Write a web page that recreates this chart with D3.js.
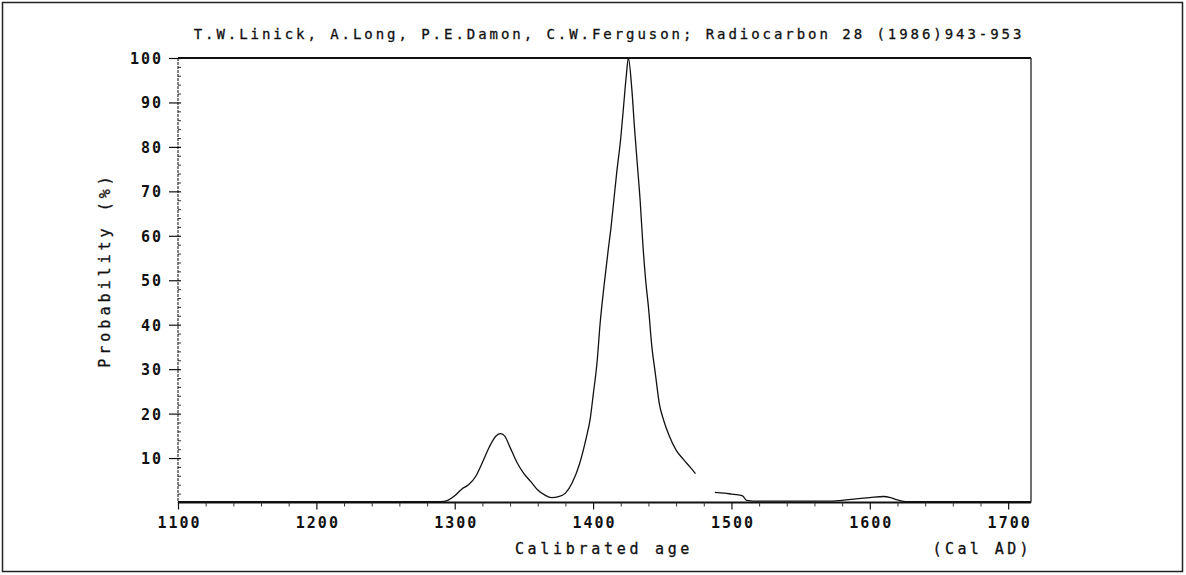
<!DOCTYPE html>
<html>
<head>
<meta charset="utf-8">
<script src="https://cdn.jsdelivr.net/npm/d3@7/dist/d3.min.js"></script>
<style>
  html, body { margin: 0; padding: 0; background: #fff; }
  svg { display: block; }
  text { font-family: "DejaVu Sans Mono", "Liberation Mono", monospace; fill: #111; }
</style>
</head>
<body>
<svg id="chart" width="1186" height="575"></svg>
<script>
// ---- data ----
const titleText = "T.W.Linick, A.Long, P.E.Damon, C.W.Ferguson; Radiocarbon 28 (1986)943-953";
const xLabel = "Calibrated age";
const xUnit = "(Cal AD)";
const yLabel = "Probability (%)";
const xTicks = [1100, 1200, 1300, 1400, 1500, 1600, 1700];
const yTicks = [10, 20, 30, 40, 50, 60, 70, 80, 90, 100];
const years = [1100,1150,1200,1250,1290,1295,1300,1305,1310,1315,1320,1325,1330,1333,1336,1340,1345,1350,1355,1360,1365,1370,1375,1380,1385,1390,1395,1398,1400,1403,1405,1408,1411,1413,1415,1417,1420,1422,1424,1425.5,1428,1430,1432,1434,1436,1438,1440,1442.5,1445,1448,1451,1455,1460,1465,1470,1474,1480,1488,1495,1500,1505,1508,1511,1520,1540,1560,1570,1580,1590,1600,1610,1615,1620,1627,1650,1680,1716];
const probability = [0.2,0.2,0.2,0.2,0.2,0.5,1.5,3.0,4.0,5.8,9.0,12.5,15.0,15.5,15.0,12.4,9.0,6.5,4.7,2.8,1.7,1.1,1.3,2.1,4.5,8.5,14.5,19,24,32,40,49,57,62,68,74,82,89,96,100,93,84,76,68,58,50,44,35,29,22,18.5,15,11.8,9.8,8,6.5,null,2.3,2.1,1.9,1.7,1.5,0.5,0.3,0.3,0.3,0.3,0.5,0.8,1.1,1.35,1.1,0.6,0.2,0.2,0.2,0.2];

// ---- layout ----
const svg = d3.select("#chart");
const x = d3.scaleLinear().domain([1100, 1716.5]).range([178, 1031]);
const y = d3.scaleLinear().domain([0, 100]).range([502.5, 58]);

// outer frame
svg.append("rect").attr("x", 2.5).attr("y", 2.5).attr("width", 1180).attr("height", 569)
  .attr("fill", "none").attr("stroke", "#222").attr("stroke-width", 1.5);

// plot frame
const [x0, x1] = x.range();
const [yb, yt] = y.range();
svg.append("line").attr("x1", x0).attr("x2", x1).attr("y1", yt).attr("y2", yt)
  .attr("stroke", "#111").attr("stroke-width", 2);
svg.append("line").attr("x1", x1).attr("x2", x1).attr("y1", yt).attr("y2", yb)
  .attr("stroke", "#222").attr("stroke-width", 1.3);
svg.append("line").attr("x1", x0).attr("x2", x0).attr("y1", yt).attr("y2", yb)
  .attr("stroke", "#333").attr("stroke-width", 1.2).attr("stroke-dasharray", "3,1");
svg.append("line").attr("x1", x0).attr("x2", x1).attr("y1", yb).attr("y2", yb)
  .attr("stroke", "#111").attr("stroke-width", 2.2);

// y axis: major ticks with labels
const yAxis = svg.append("g").attr("transform", `translate(${x0},0)`)
  .call(d3.axisLeft(y).tickValues(yTicks).tickSize(9).tickSizeOuter(0).tickPadding(6));
yAxis.select(".domain").remove();
yAxis.selectAll("line").attr("stroke", "#111").attr("stroke-width", 1.2).attr("x2", -9).attr("x1", 3);
yAxis.selectAll("text").style("font-size", "15px").style("font-weight", "bold").style("letter-spacing", "2px").attr("dy", "0.36em").attr("x", -15);

// y axis minor ticks
const yMinor = d3.range(2, 100, 2).filter(v => v % 10 !== 0);
const yAxisMinor = svg.append("g").attr("transform", `translate(${x0},0)`)
  .call(d3.axisRight(y).tickValues(yMinor).tickSize(3).tickFormat(""));
yAxisMinor.select(".domain").remove();
yAxisMinor.selectAll("line").attr("stroke", "#333").attr("stroke-width", 1);

// x axis: major ticks with labels
const xAxis = svg.append("g").attr("transform", `translate(0,${yb})`)
  .call(d3.axisBottom(x).tickValues(xTicks).tickSize(7).tickSizeOuter(0).tickPadding(8).tickFormat(d3.format("d")));
xAxis.select(".domain").remove();
xAxis.selectAll("line").attr("stroke", "#111").attr("stroke-width", 1.2);
xAxis.selectAll("text").style("font-size", "15px").style("font-weight", "bold").style("letter-spacing", "2px").attr("dx", "1px");

// x axis minor ticks
const xMinor = d3.range(1120, 1716, 20).filter(v => v % 100 !== 0);
const xAxisMinor = svg.append("g").attr("transform", `translate(0,${yb})`)
  .call(d3.axisBottom(x).tickValues(xMinor).tickSize(4).tickFormat(""));
xAxisMinor.select(".domain").remove();
xAxisMinor.selectAll("line").attr("stroke", "#333").attr("stroke-width", 1);

// curve
const data = years.map((yr, i) => ({ yr, p: probability[i] }));
const line = d3.line()
  .defined(d => d.p !== null)
  .x(d => x(d.yr))
  .y(d => y(d.p))
  .curve(d3.curveMonotoneX);
svg.append("path").datum(data)
  .attr("d", line)
  .attr("fill", "none")
  .attr("stroke", "#111")
  .attr("stroke-width", 1.3);

// texts
svg.append("text").attr("x", 609).attr("y", 34).attr("dy", "0.36em")
  .attr("text-anchor", "middle")
  .style("font-size", "14px").style("letter-spacing", "2.95px")
  .style("stroke", "#111").style("stroke-width", "0.3px")
  .text(titleText);

svg.append("text").attr("x", 604).attr("y", 549).attr("dy", "0.36em")
  .attr("text-anchor", "middle")
  .style("font-size", "15px").style("letter-spacing", "3.7px")
  .style("stroke", "#111").style("stroke-width", "0.3px")
  .text(xLabel);

svg.append("text").attr("x", 1032).attr("y", 549).attr("dy", "0.36em")
  .attr("text-anchor", "end")
  .style("font-size", "15px").style("letter-spacing", "3.4px")
  .style("stroke", "#111").style("stroke-width", "0.3px")
  .text(xUnit);

svg.append("text")
  .attr("transform", "translate(105,270) rotate(-90)")
  .attr("dy", "0.36em")
  .attr("text-anchor", "middle")
  .style("font-size", "15px").style("letter-spacing", "4px")
  .style("stroke", "#111").style("stroke-width", "0.3px")
  .text(yLabel);
</script>
</body>
</html>
